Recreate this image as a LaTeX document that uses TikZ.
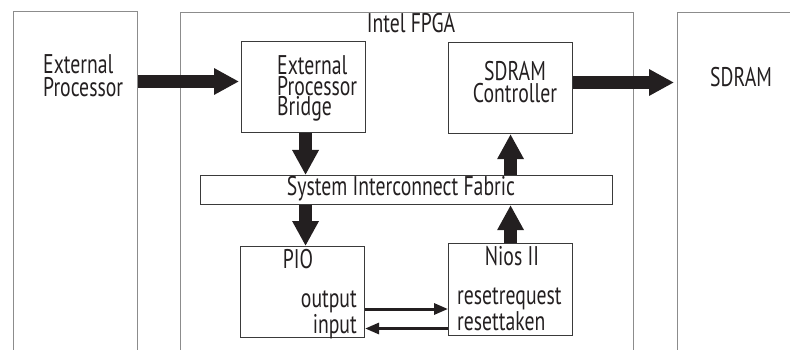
\documentclass[tikz,border=0pt]{standalone}
\usepackage{fontspec}
\setmainfont[FakeStretch=0.73]{PT Sans}
\usetikzlibrary{arrows.meta}
\definecolor{ink}{HTML}{231F20}
\definecolor{frame}{HTML}{8C8C8C}
\definecolor{boxline}{HTML}{3A3A3A}
\begin{document}
\begin{tikzpicture}[x=1pt,y=-1pt,
  outer/.style={draw=frame, line width=1.3pt, inner sep=0, anchor=north west},
  blk/.style={draw=boxline, line width=1.1pt, inner sep=0, anchor=north west},
  txt/.style={inner sep=0, text=ink, font=\fontsize{27}{21}\selectfont},
  bigarrow/.style={draw=ink, fill=ink, line width=13pt, -{Triangle[length=25pt,width=25pt]}},
  sigarrow/.style={draw=ink, fill=ink, line width=3pt, -{Triangle[length=14pt,width=11pt]}}]
\useasboundingbox (0,0) rectangle (790,350);
\begin{scope}
\clip (0,0) rectangle (790,350);
\node[outer, minimum width=124pt, minimum height=400pt] (extp) at (13,11) {};
\node[outer, minimum width=453pt, minimum height=400pt] (fpga) at (180,12) {};
\node[outer, minimum width=160pt, minimum height=400pt] (sdram) at (677,12) {};
\end{scope}
% inner blocks
\node[blk, minimum width=124pt, minimum height=91pt] (bridge) at (241,41) {};
\node[blk, minimum width=124pt, minimum height=91pt] (ctrl) at (448,42) {};
\node[blk, minimum width=412pt, minimum height=29pt] (fabric) at (200,175) {};
\node[blk, minimum width=124pt, minimum height=91pt] (pio) at (240,246) {};
\node[blk, minimum width=124pt, minimum height=92pt] (nios) at (448,243) {};
% texts (multi-line nodes are anchored at the baseline of their last line)
\node[txt, anchor=base west, align=left, font=\fontsize{27}{23.5}\selectfont] (extptext) at (43,97) {External\\Processor};
\node[txt, anchor=base] (fpgatext) at (411,33) {Intel FPGA};
\node[txt, anchor=base west, align=left, font=\fontsize{27}{20.5}\selectfont] (bridgetext) at (277,116) {External\\Processor\\Bridge};
\node[txt, anchor=base, align=center, font=\fontsize{27}{22}\selectfont] (ctrltext) at (515,103) {SDRAM\\Controller};
\node[txt, anchor=base west] (sdramtext) at (710,87) {SDRAM};
\node[txt, anchor=base] (fabrictext) at (401,195) {System Interconnect Fabric};
\node[txt, anchor=base] (piotext) at (298,268) {PIO};
\node[txt, anchor=base east, align=right, font=\fontsize{27}{20}\selectfont] (piosig) at (357,333) {output\\input};
\node[txt, anchor=base] (niostext) at (512,265) {Nios II};
\node[txt, anchor=base west, align=left, font=\fontsize{27}{20}\selectfont] (niossig) at (457,330) {resetrequest\\resettaken};
% thick arrows
\coordinate (ya) at (0,81.5);
\coordinate (yb) at (0,82.5);
\draw[bigarrow] (extp.east |- ya) -- ([xshift=-2pt]bridge.west |- ya);
\draw[bigarrow] (ctrl.east |- yb) -- ([xshift=-3pt]sdram.west |- yb);
\coordinate (xa) at ([xshift=2pt]bridge.south);
\draw[bigarrow] (xa) -- (xa |- fabric.north);
\draw[bigarrow] (xa |- fabric.south) -- (xa |- pio.north);
\draw[bigarrow] (nios.north) -- (nios.north |- fabric.south);
\draw[bigarrow] (nios.north |- fabric.north) -- (nios.north |- ctrl.south);
% signal arrows
\coordinate (yout) at (0,309);
\coordinate (yin) at (0,328.5);
\draw[sigarrow] (pio.east |- yout) -- (nios.west |- yout);
\draw[sigarrow] (nios.west |- yin) -- (pio.east |- yin);
\end{tikzpicture}
\end{document}
